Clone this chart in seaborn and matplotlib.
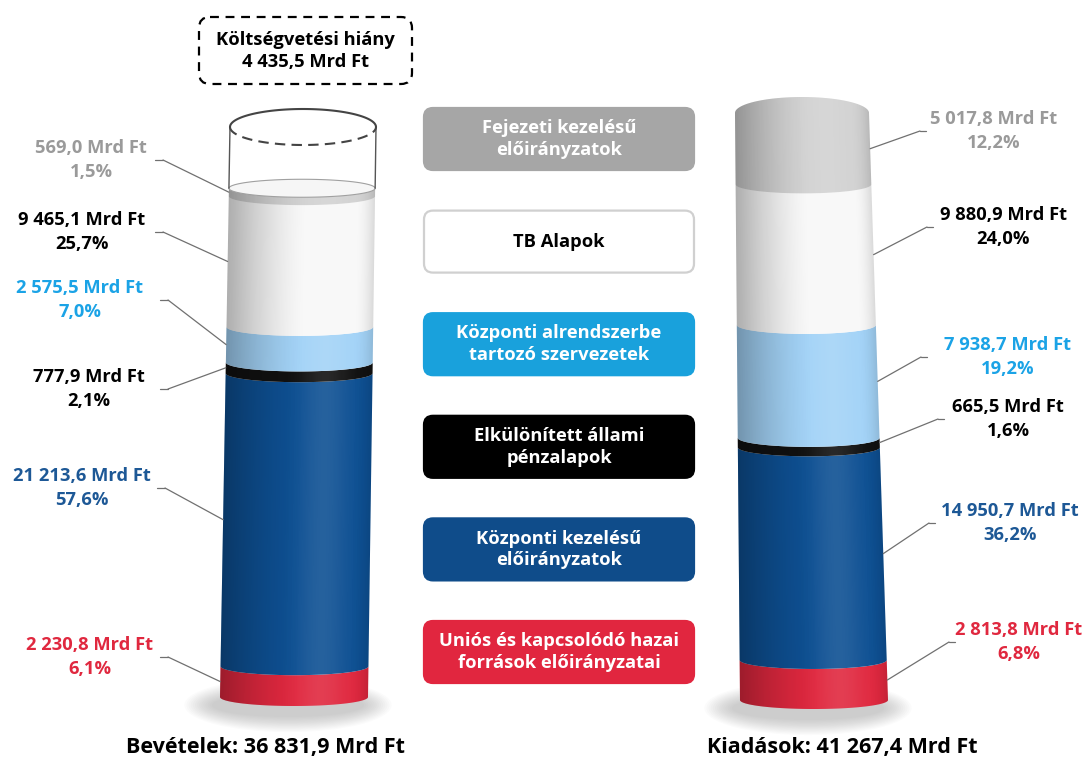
import numpy as np
import matplotlib
matplotlib.use("Agg")
import matplotlib.pyplot as plt
from matplotlib.patches import Polygon, FancyBboxPatch, Ellipse, ConnectionPatch
import seaborn as sns

# data (Mrd Ft), bottom -> top
categories = ["Uniós és kapcsolódó hazai\nforrások előirányzatai",
              "Központi kezelésű\nelőirányzatok",
              "Elkülönített állami\npénzalapok",
              "Központi alrendszerbe\ntartozó szervezetek",
              "TB Alapok",
              "Fejezeti kezelésű\nelőirányzatok"]
bevetelek = [2230.8, 21213.6, 777.9, 2575.5, 9465.1, 569.0]
bevetelek_pct = ["6,1%", "57,6%", "2,1%", "7,0%", "25,7%", "1,5%"]
kiadasok = [2813.8, 14950.7, 665.5, 7938.7, 9880.9, 5017.8]
kiadasok_pct = ["6,8%", "36,2%", "1,6%", "19,2%", "24,0%", "12,2%"]
hiany = 4435.5

seg_colors = ["#e0283f", "#0e5093", "#111111", "#a3d3f7", "#f8f8f8", "#d2d2d2"]
box_colors = ["#e1263f", "#0f4c8a", "#000000", "#19a1dc", "#ffffff", "#a6a6a6"]
label_colors = ["#e0283f", "#1d5896", "#000000", "#1ba3e6", "#000000", "#9a9a9a"]

sns.set_theme(style="white")
plt.rcParams["font.family"] = ["Open Sans", "DejaVu Sans"]
FS = 13.2


def fmt(v):
    return f"{v:,.1f}".replace(",", " ").replace(".", ",")


fig = plt.figure(figsize=(10.88, 7.61), dpi=100)
bg = fig.add_axes([0, 0, 1, 1])
bg.set_xlim(0, 1088)
bg.set_ylim(761, 0)
bg.axis("off")


def cylinder(values, base_px, top_px, cx, hw, e_px, cap_px, hollow=0.0):
    ax = fig.add_axes([0, 0, 1, 1], facecolor="none")
    total = sum(values) + hollow
    scale = total / (base_px - top_px)
    e = e_px * scale
    cap = cap_px * scale
    fill_top = sum(values)

    def cxf(v):
        return cx[0] + (cx[1] - cx[0]) * v / total

    def hwf(v):
        return hw[0] + (hw[1] - hw[0]) * v / total

    t = np.linspace(0, np.pi, 80)

    def front(v, ee):
        return np.column_stack([cxf(v) - hwf(v) * np.cos(t), v - ee * np.sin(t)])

    def back(v, ee):
        return np.column_stack([cxf(v) - hwf(v) * np.cos(t), v + ee * np.sin(t)])

    # soft shadow
    for k in range(14):
        f = 1 - k / 14
        ax.add_patch(Ellipse((cxf(0) - 6, -e * 0.9), 2 * hwf(0) * (1.0 + 0.4 * f),
                             2 * e * (1.2 + 1.8 * f), color="#808080", alpha=0.03, lw=0))

    lo = 0.0
    for v, c in zip(values, seg_colors):
        hi = lo + v
        ax.add_patch(Polygon(np.vstack([front(hi, e), front(lo, e)[::-1]]),
                             closed=True, fc=c, ec="none", lw=0))
        lo = hi
    # top surface of fill
    if hollow == 0:
        ax.add_patch(Polygon(np.vstack([front(fill_top, cap), back(fill_top, cap)[::-1]]),
                             closed=True, fc=seg_colors[-1], ec="none", lw=0))
        cap_e = cap
    else:
        cap_e = e

    # shading overlay, clipped to the body
    body = Polygon(np.vstack([back(fill_top, cap_e), front(0, e)[::-1]]),
                   closed=True, fc="none", ec="none", transform=ax.transData)
    ax.add_patch(body)
    xs = np.linspace(min(cxf(0) - hwf(0), cxf(total) - hwf(total)) - 2,
                     max(cxf(0) + hwf(0), cxf(total) + hwf(total)) + 2, 300)
    vs = np.linspace(-2 * e, fill_top + 2 * cap_e, 200)
    X, V = np.meshgrid(xs, vs)
    T = (X - (cxf(V) - hwf(V))) / (2 * hwf(V))
    dark = 0.30 * np.clip(1 - T / 0.55, 0, 1) ** 1.5 + 0.12 * np.clip((T - 0.86) / 0.14, 0, 1) ** 2
    light = 0.10 * np.exp(-((T - 0.68) / 0.16) ** 2)
    dimg = np.zeros(X.shape + (4,))
    dimg[..., 3] = dark
    limg = np.ones(X.shape + (4,))
    limg[..., 3] = light
    ext = [xs[0], xs[-1], vs[0], vs[-1]]
    for img in (dimg, limg):
        im = ax.imshow(img, extent=ext, origin="lower", aspect="auto",
                       interpolation="bilinear", zorder=3)
        im.set_clip_path(body)

    if hollow > 0:
        # liquid surface
        ax.add_patch(Polygon(np.vstack([front(fill_top, e), back(fill_top, e)[::-1]]),
                             closed=True, fc="#f6f6f6", ec="#a0a0a0", lw=0.8, zorder=4))
        for sgn in (-1, 1):
            ax.plot([cxf(fill_top) + sgn * hwf(fill_top), cxf(total) + sgn * hwf(total)],
                    [fill_top, total], color="#555555", lw=1.0, zorder=4)
        bk = back(total, cap)
        fr = front(total, cap)
        ax.plot(bk[:, 0], bk[:, 1], color="#444444", lw=1.5, zorder=4)
        ax.plot(fr[:, 0], fr[:, 1], color="#444444", lw=1.5, ls=(0, (5, 3)), zorder=4)

    ax.set_xlim(0, 1088)
    ax.set_ylim(-(761 - base_px) * scale, base_px * scale)
    ax.axis("off")
    return ax, cxf, hwf


axL, cxL, hwL = cylinder(bevetelek, 697, 127, (294, 303), (74, 73), 9, 18, hollow=hiany)
axR, cxR, hwR = cylinder(kiadasok, 700, 113, (814, 802), (74, 67), 9, 16)

# labels with leader lines (layout in pixel coords)
left_pos = [(90, 657), (82, 488), (89, 389), (80, 300), (82, 232), (91, 160)]
left_start = [160, 157, 160, 160, 155, 155]
right_pos = [(1019, 642), (1010, 523), (1008, 419), (1008, 357), (1003, 227), (994, 131)]
right_start = [955, 935, 944, 927, 933, 926]


def labels(ax, values, pcts, pos, starts, side, cxf, hwf):
    lo = 0.0
    for i, v in enumerate(values):
        mid = lo + v / 2
        lo += v
        x, y = pos[i]
        bg.text(x, y, f"{fmt(v)} Mrd Ft\n{pcts[i]}", ha="center", va="center",
                fontsize=FS, fontweight="bold", color=label_colors[i], linespacing=1.4)
        s = starts[i]
        stub = s + 8 if side == "left" else s - 6
        bg.plot([s, stub], [y, y], color="#707070", lw=0.9)
        edge = cxf(mid) - hwf(mid) if side == "left" else cxf(mid) + hwf(mid)
        fig.add_artist(ConnectionPatch(xyA=(stub, y), coordsA=bg.transData,
                                       xyB=(edge, mid), coordsB=ax.transData,
                                       color="#707070", lw=0.9))


labels(axL, bevetelek, bevetelek_pct, left_pos, left_start, "left", cxL, hwL)
labels(axR, kiadasok, kiadasok_pct, right_pos, right_start, "right", cxR, hwR)

# legend boxes in the middle
for i, (cat, bc) in enumerate(zip(categories, box_colors)):
    top = 621 - i * 102.6
    ec = "#d0d0d0" if bc == "#ffffff" else bc
    bg.add_patch(FancyBboxPatch((424, top), 270, 62, boxstyle="round,pad=0,rounding_size=9",
                                fc=bc, ec=ec, lw=1.6))
    bg.text(559, top + 31, cat, ha="center", va="center", fontsize=FS, fontweight="bold",
            color="#000000" if bc == "#ffffff" else "white", linespacing=1.25)

# deficit box
bg.add_patch(FancyBboxPatch((199, 17), 213, 67, boxstyle="round,pad=0,rounding_size=11",
                            fc="white", ec="black", lw=1.6, ls=(0, (4, 3))))
bg.text(305, 51, f"Költségvetési hiány\n{fmt(hiany)} Mrd Ft", ha="center", va="center",
        fontsize=FS, fontweight="bold", color="black", linespacing=1.35)

bg.text(265, 748, f"Bevételek: {fmt(sum(bevetelek))} Mrd Ft", ha="center", va="center",
        fontsize=15.5, fontweight="bold", color="black")
bg.text(842, 748, f"Kiadások: {fmt(sum(kiadasok))} Mrd Ft", ha="center", va="center",
        fontsize=15.5, fontweight="bold", color="black")

fig.savefig("out.png", dpi=100, facecolor="white")
plt.close(fig)
